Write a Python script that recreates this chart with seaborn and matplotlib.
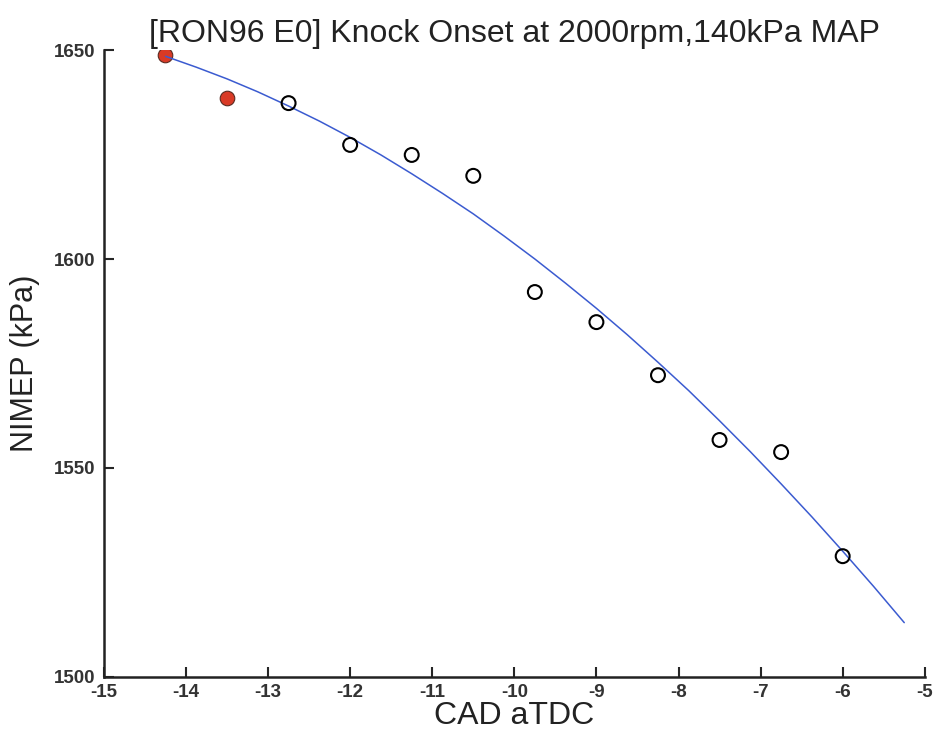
import numpy as np
import pandas as pd
import matplotlib
matplotlib.use('Agg')
import matplotlib.pyplot as plt
import seaborn as sns

# knock onset points (spark timing, CAD aTDC) and NIMEP (kPa)
knock_cad = [-14.25, -13.5]
knock_nimep = [1648.8, 1638.5]

cad = [-12.75, -12.0, -11.25, -10.5, -9.75, -9.0, -8.25, -7.5, -6.75, -6.0]
nimep = [1637.3, 1627.3, 1624.9, 1619.9, 1592.1, 1584.9, 1572.2, 1556.7, 1553.8, 1528.9]

# fitted curve
fit_cad = [-14.25, -13.875, -13.5, -13.125, -12.75, -12.375, -12.0, -11.625, -11.25,
           -10.875, -10.5, -10.125, -9.75, -9.375, -9.0, -8.625, -8.25, -7.875, -7.5,
           -7.125, -6.75, -6.375, -6.0, -5.625, -5.25]
fit_nimep = [1648.5, 1645.9, 1643.1, 1640.0, 1636.6, 1633.0, 1629.1, 1624.9, 1620.4,
             1615.7, 1610.8, 1605.5, 1600.0, 1594.2, 1588.2, 1581.9, 1575.3, 1568.5,
             1561.3, 1553.9, 1546.2, 1538.3, 1530.1, 1521.7, 1513.0]

x_ticks = [-15, -14, -13, -12, -11, -10, -9, -8, -7, -6, -5]
y_ticks = [1500, 1550, 1600, 1650]

sns.set_style('ticks')
plt.rcParams['font.family'] = ['Liberation Sans', 'DejaVu Sans']

fig = plt.figure(figsize=(9.36, 7.38), dpi=100)
ax = fig.add_axes([0.111, 0.0827, 0.877, 0.8495])

fit_df = pd.DataFrame({'cad': fit_cad, 'nimep': fit_nimep})
sns.lineplot(data=fit_df, x='cad', y='nimep', color='#3b5bd0', linewidth=1.1,
             ax=ax, zorder=3, sort=False)

knock_df = pd.DataFrame({'cad': knock_cad, 'nimep': knock_nimep})
sns.scatterplot(data=knock_df, x='cad', y='nimep', color='#d93a26', s=110,
                edgecolor='#5a2a20', linewidth=0.8, ax=ax, zorder=2)

pts_df = pd.DataFrame({'cad': cad, 'nimep': nimep})
sns.scatterplot(data=pts_df, x='cad', y='nimep', facecolor='none', s=100,
                edgecolor='black', linewidth=1.5, ax=ax, zorder=4)

ax.set_xlim(-15, -5)
ax.set_ylim(1500, 1650)
ax.set_xticks(x_ticks)
ax.set_yticks(y_ticks)
ax.set_xticklabels([str(t) for t in x_ticks], fontsize=13.5, fontweight='bold', color='#333333')
ax.set_yticklabels([str(t) for t in y_ticks], fontsize=13.5, fontweight='bold', color='#333333')
ax.tick_params(direction='in', length=7, width=1.5)
ax.tick_params(axis='x', pad=5)
ax.tick_params(axis='y', pad=6)

for side in ['top', 'right']:
    ax.spines[side].set_visible(False)
for side in ['left', 'bottom']:
    ax.spines[side].set_linewidth(1.8)
    ax.spines[side].set_color('#222222')

ax.set_xlabel('CAD aTDC', fontsize=23, color='#222222', labelpad=0)
ax.set_ylabel('NIMEP (kPa)', fontsize=22, color='#222222', labelpad=10)
ax.set_title('[RON96 E0] Knock Onset at 2000rpm,140kPa MAP', fontsize=23,
             color='#222222', pad=6)

fig.savefig('out.png', dpi=100)
